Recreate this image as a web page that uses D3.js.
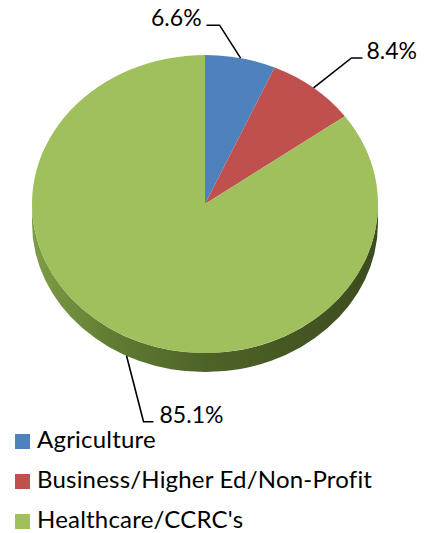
<!DOCTYPE html>
<html>
<head>
<meta charset="utf-8">
<script src="https://cdn.jsdelivr.net/npm/d3@7/dist/d3.min.js"></script>
<style>
  html, body { margin: 0; padding: 0; background: #fff; }
  svg { display: block; }
  text { font-family: Lato, "Open Sans", sans-serif; fill: #000; }
</style>
</head>
<body>
<svg id="chart" width="425" height="533"></svg>
<script>
// Sector shares (percent)
const categories = ["Agriculture", "Business/Higher Ed/Non-Profit", "Healthcare/CCRC's"];
const shares = [6.6, 8.4, 85.1];
const shareLabels = ["6.6%", "8.4%", "85.1%"];

const topColors = ["#4f81bd", "#c0504d", "#9fc05c"];

// Leader-line geometry: elbow offset from the slice edge, horizontal run, text gap
const labelLayout = [
  { elbow: [-21, -33], run: -13, gap: 5, anchor: "end" },
  { elbow: [38, -30], run: 11, gap: 4, anchor: "start" },
  { elbow: [17, 66], run: 10, gap: 6, anchor: "start" }
];

const W = 425, H = 533;
const cx = 205, cy = 204, rx = 173, ry = 149, depth = 19;

const svg = d3.select("#chart");
const color = d3.scaleOrdinal().domain(categories).range(topColors);

const pie = d3.pie().sort(null).value(d => d.value).startAngle(0).endAngle(2 * Math.PI);
const data = categories.map((c, i) => ({ name: c, value: shares[i], label: shareLabels[i] }));
const arcs = pie(data);

// point on the tilted rim for angle a (0 = 12 o'clock, clockwise)
const rim = (a, dy = 0) => [cx + rx * Math.sin(a), cy - ry * Math.cos(a) + dy];

// side wall shading
const defs = svg.append("defs");
const grad = defs.append("linearGradient").attr("id", "sideShade")
  .attr("gradientUnits", "userSpaceOnUse")
  .attr("x1", cx - rx).attr("x2", cx + rx).attr("y1", 0).attr("y2", 0);
[["0%", "#7f9d47"], ["22%", "#627d33"], ["50%", "#4e6328"], ["80%", "#435521"], ["100%", "#3c4c1d"]]
  .forEach(([o, c]) => grad.append("stop").attr("offset", o).attr("stop-color", c));

// visible side wall: front half of the rim, from 3 o'clock to 9 o'clock
const sideG = svg.append("g");
arcs.forEach(d => {
  const s0 = Math.max(d.startAngle, Math.PI / 2);
  const s1 = Math.min(d.endAngle, 3 * Math.PI / 2);
  if (s1 <= s0) return;
  const p0 = rim(s0), p1 = rim(s1), q1 = rim(s1, depth), q0 = rim(s0, depth);
  sideG.append("path")
    .attr("d", `M${p0}A${rx},${ry} 0 0 1 ${p1}L${q1}A${rx},${ry} 0 0 0 ${q0}Z`)
    .attr("fill", d.data.name === categories[2] ? "url(#sideShade)" : d3.color(color(d.data.name)).darker(1.2));
});

// top face slices
svg.append("g").selectAll("path").data(arcs).join("path")
  .attr("d", d => {
    const p0 = rim(d.startAngle), p1 = rim(d.endAngle);
    const large = d.endAngle - d.startAngle > Math.PI ? 1 : 0;
    return `M${cx},${cy}L${p0}A${rx},${ry} 0 ${large} 1 ${p1}Z`;
  })
  .attr("fill", d => color(d.data.name));

// leader lines and value labels
const lab = svg.append("g");
arcs.forEach((d, i) => {
  const mid = (d.startAngle + d.endAngle) / 2;
  const front = Math.cos(mid) < 0;
  const start = rim(mid, front ? depth : 0);
  const L = labelLayout[i];
  const elbow = [start[0] + L.elbow[0], start[1] + L.elbow[1]];
  const end = [elbow[0] + L.run, elbow[1]];
  lab.append("path")
    .attr("d", d3.line()([start, elbow, end]))
    .attr("fill", "none").attr("stroke", "#000").attr("stroke-width", 1.6);
  lab.append("text")
    .attr("x", end[0] + (L.anchor === "end" ? -L.gap : L.gap))
    .attr("y", end[1] + 1)
    .attr("text-anchor", L.anchor)
    .attr("font-size", 23)
    .text(d.data.label);
});

// legend
const legend = svg.append("g").attr("transform", "translate(15,434)");
const rows = legend.selectAll("g").data(categories).join("g")
  .attr("transform", (d, i) => `translate(0,${i * 40})`);
rows.append("rect").attr("width", 15).attr("height", 15).attr("fill", d => color(d));
rows.append("text").attr("x", 22).attr("y", 14).attr("font-size", 24)
  .attr("letter-spacing", 0.2).text(d => d);
</script>
</body>
</html>
